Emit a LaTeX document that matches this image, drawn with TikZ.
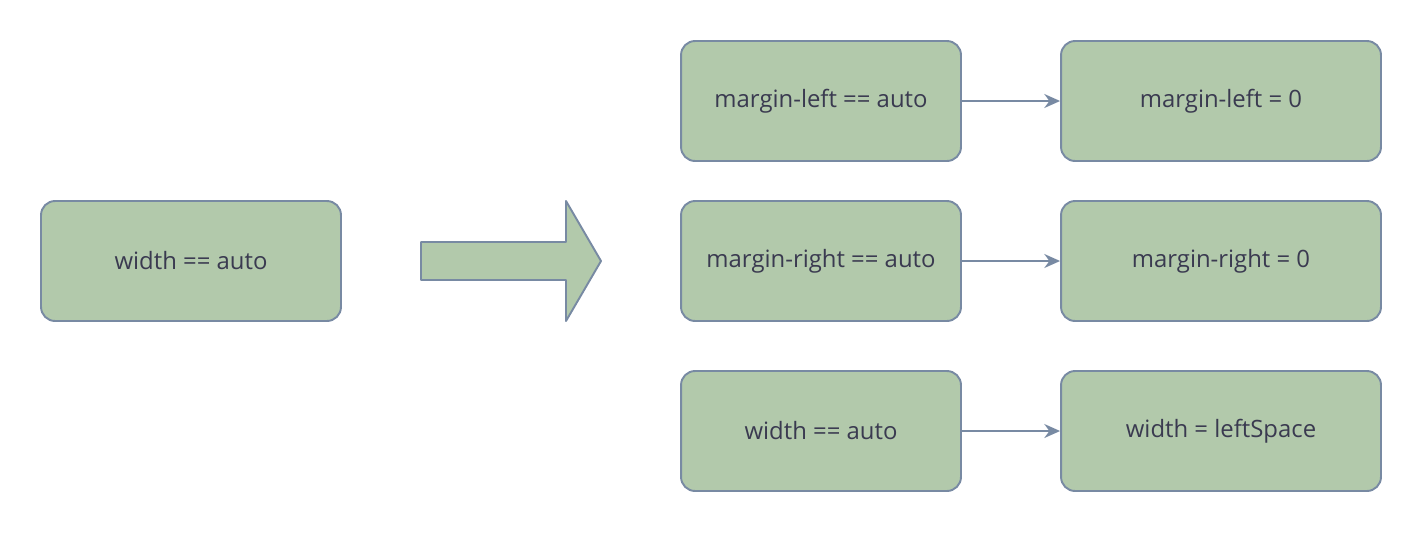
\documentclass[tikz,border=0pt]{standalone}
\usepackage{fontspec}
\setmainfont{Open Sans}
\usetikzlibrary{arrows.meta}
\definecolor{boxfill}{HTML}{B2C9AB}
\definecolor{boxline}{HTML}{788AA3}
\definecolor{boxtext}{HTML}{3A3A50}
\tikzset{
  box/.style={draw=boxline, fill=boxfill, line width=1.1pt, rounded corners=8pt,
    text=boxtext, font=\fontsize{13.6}{16}\selectfont, minimum height=2.4cm},
  link/.style={draw=boxline, line width=0.9pt, -{Stealth[length=9pt,width=8pt]}}
}
\begin{document}
\begin{tikzpicture}[x=0.02cm, y=-0.02cm]
	\useasboundingbox (0,0) rectangle (1422,532);
	\node[box, minimum width=6cm] (wauto) at (191,261) {width == auto};
	
	\node[box, minimum width=5.6cm] (mlauto) at (821,101) {margin-left == auto};
	\node[box, minimum width=5.6cm] (mrauto) at (821,261) {margin-right == auto};
	\node[box, minimum width=5.6cm] (wauto2) at (821,431) {width == auto};
	
	\node[box, minimum width=6.4cm] (mlzero) at (1221,101) {margin-left = 0};
	\node[box, minimum width=6.4cm] (mrzero) at (1221,261) {margin-right = 0};
	\node[box, minimum width=6.4cm] (wspace) at (1221,431) {width = leftSpace};
	
	% big arrow
	\draw[draw=boxline, fill=boxfill, line width=1.1pt, line join=round]
		(421,242) -- (566,242) -- (566,201) -- (601,261) -- (566,321) -- (566,280) -- (421,280) -- cycle;
	
	\draw[link] (mlauto) -- (mlzero);
	\draw[link] (mrauto) -- (mrzero);
	\draw[link] (wauto2) -- (wspace);
\end{tikzpicture}
\end{document}
